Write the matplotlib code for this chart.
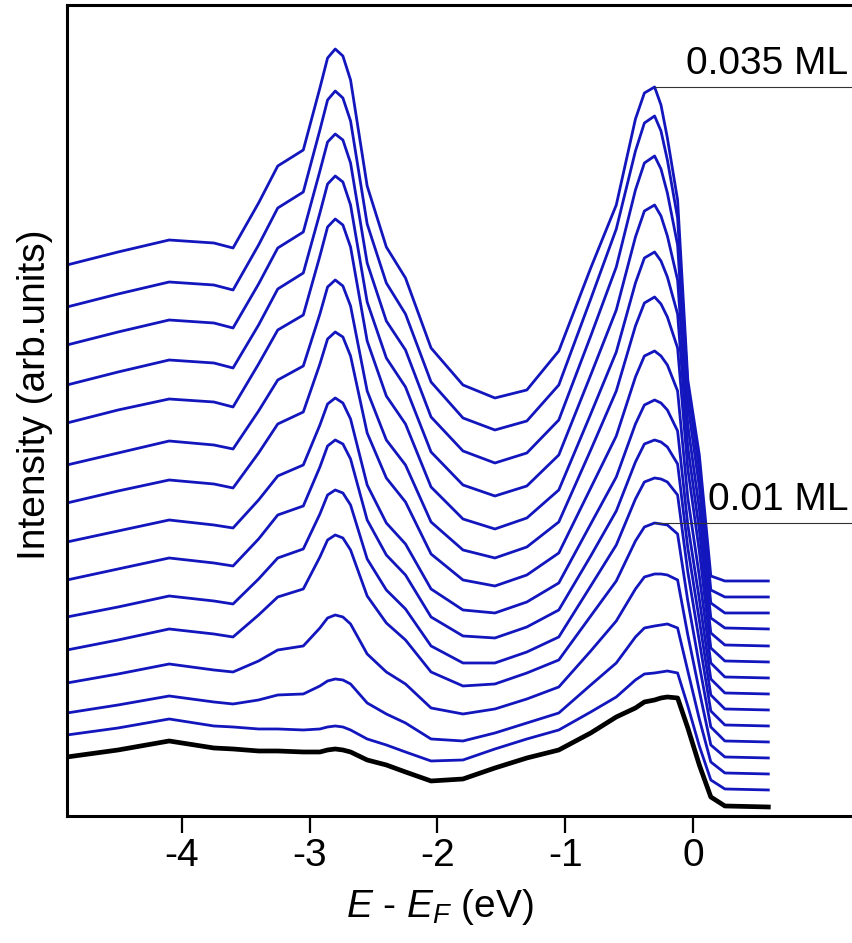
import matplotlib
matplotlib.use("Agg")
import matplotlib.pyplot as plt
import numpy as np

plt.rcParams['font.family'] = ['Liberation Sans', 'DejaVu Sans']
plt.rcParams['mathtext.fontset'] = 'custom'
plt.rcParams['mathtext.rm'] = 'Liberation Sans'
plt.rcParams['mathtext.it'] = 'Liberation Sans:italic'
plt.rcParams['axes.unicode_minus'] = False

## energy grid (eV, relative to E_F)
energy = [-4.9, -4.5, -4.1, -3.75, -3.6, -3.4, -3.25, -3.05, -2.92, -2.86,
          -2.8, -2.74, -2.68, -2.55, -2.4, -2.25, -2.05, -1.8, -1.55, -1.3,
          -1.05, -0.8, -0.6, -0.45, -0.38, -0.3, -0.25, -0.2, -0.12, -0.04,
          0.05, 0.14, 0.25, 0.59]

## spectra, top (0.035 ML) down to the clean surface (black)
spec01 = [316, 329, 341, 338, 333, 378, 415, 431, 493, 523, 532, 525, 501, 395, 334, 303, 233, 196, 183, 191, 230, 313, 376, 462, 488, 494, 476, 443, 381, 201, 126, 5, 0, 0]
spec02 = [290, 303, 315, 312, 307, 352, 389, 405, 467, 497, 506, 499, 476, 373, 314, 283, 215, 179, 167, 176, 212, 298, 368, 446, 474, 481, 466, 437, 379, 209, 127, 7, 0, 0]
spec03 = [268, 281, 293, 290, 285, 329, 365, 381, 442, 471, 479, 473, 450, 350, 292, 263, 196, 162, 150, 160, 193, 277, 346, 423, 450, 457, 444, 420, 368, 209, 126, 10, 0, 0]
spec04 = [244, 257, 269, 266, 261, 304, 340, 356, 416, 445, 453, 447, 424, 327, 271, 242, 177, 144, 133, 143, 174, 254, 319, 392, 418, 424, 413, 393, 349, 204, 120, 11, 1, 0]
spec05 = [223, 236, 247, 244, 239, 282, 316, 331, 390, 419, 427, 421, 399, 305, 250, 222, 159, 127, 117, 128, 156, 232, 294, 363, 388, 394, 385, 369, 332, 199, 116, 13, 1, 0]
spec06 = [197, 209, 221, 217, 213, 251, 282, 296, 348, 375, 382, 376, 356, 271, 222, 197, 140, 112, 104, 115, 140, 212, 271, 336, 359, 365, 358, 345, 314, 193, 111, 14, 1, 0]
spec07 = [175, 187, 198, 194, 190, 225, 254, 266, 314, 339, 346, 341, 322, 245, 200, 176, 124, 98, 92, 103, 125, 190, 242, 301, 322, 327, 322, 313, 287, 180, 102, 15, 1, 0]
spec08 = [152, 163, 174, 169, 166, 194, 218, 229, 269, 290, 296, 291, 275, 209, 171, 150, 105, 84, 81, 92, 111, 170, 217, 270, 289, 294, 291, 284, 263, 169, 95, 15, 1, 0]
spec09 = [130, 141, 152, 147, 144, 171, 195, 204, 243, 264, 270, 266, 251, 190, 155, 135, 93, 74, 72, 83, 100, 154, 199, 248, 266, 270, 268, 263, 246, 162, 90, 15, 1, 0]
spec10 = [109, 119, 130, 125, 122, 147, 168, 177, 212, 231, 236, 233, 221, 167, 136, 117, 80, 63, 63, 74, 89, 140, 181, 227, 244, 248, 247, 244, 231, 154, 85, 15, 1, 0]
spec11 = [92, 102, 113, 108, 105, 127, 145, 153, 185, 202, 207, 204, 192, 146, 119, 102, 70, 56, 58, 69, 82, 126, 161, 201, 215, 219, 218, 217, 208, 141, 77, 15, 1, 0]
spec12 = [75, 84, 94, 88, 86, 97, 108, 112, 130, 140, 143, 141, 134, 104, 86, 74, 50, 44, 49, 59, 71, 107, 137, 169, 181, 184, 184, 183, 178, 123, 67, 13, 1, 0]
spec13 = [61, 69, 78, 72, 70, 74, 79, 80, 88, 93, 95, 94, 90, 71, 60, 51, 35, 33, 41, 51, 61, 89, 111, 137, 146, 148, 149, 150, 146, 103, 55, 12, 1, 0]
spec14 = [55, 62, 71, 64, 63, 61, 61, 60, 61, 63, 64, 63, 60, 51, 45, 38, 29, 30, 41, 51, 60, 78, 93, 110, 116, 117, 118, 119, 117, 84, 44, 10, 1, 0]
clean = [50, 57, 66, 59, 58, 56, 56, 55, 55, 57, 58, 57, 55, 47, 42, 35, 26, 28, 39, 49, 57, 74, 90, 99, 105, 107, 109, 110, 109, 79, 42, 10, 1, 0]

spectra = [spec01, spec02, spec03, spec04, spec05, spec06, spec07, spec08,
           spec09, spec10, spec11, spec12, spec13, spec14]
offsets = [235, 219, 203, 187, 170, 154, 138, 122, 106, 90, 74, 58, 42, 26]
clean_offset = 9

## figure
fig = plt.figure(figsize=(8.53, 9.43), dpi=100)
ax = fig.add_axes([0.0785, 0.1347, 0.9215, 0.860])

e = np.array(energy)
for s, off in zip(spectra, offsets):
    ax.plot(e, np.array(s) + off, color='#1216bc', lw=2.0, solid_joinstyle='round')
ax.plot(e, np.array(clean) + clean_offset, color='black', lw=3.4, solid_joinstyle='round')

## coverage markers at the peak near E_F
near_ef = e > -1
top_peak = np.max(np.array(spec01)[near_ef]) + offsets[0]
low_peak = np.max(np.array(spec11)[near_ef]) + offsets[10]
ax.plot([-0.3, 1.3], [top_peak, top_peak], color='#333333', lw=0.8)
ax.plot([-0.3, 1.3], [low_peak, low_peak], color='#333333', lw=0.8)
ax.text(1.215, top_peak + 5, '0.035 ML', fontsize=28, ha='right', va='bottom')
ax.text(1.215, low_peak + 5, '0.01 ML', fontsize=28, ha='right', va='bottom')

ax.set_xlim(-4.9, 1.253)
ax.set_ylim(0, 811)
ax.set_xticks([-4, -3, -2, -1, 0])
ax.set_yticks([])
ax.tick_params(axis='x', direction='out', length=12, width=1.6, labelsize=28, pad=4)

for side in ['left', 'bottom', 'top']:
    ax.spines[side].set_linewidth(2.2)
ax.spines['right'].set_visible(False)

ax.set_xlabel('$E$ - $E_F$ (eV)', fontsize=28)
ax.xaxis.set_label_coords(0.4746, -0.088)
ax.set_ylabel('Intensity (arb.units)', fontsize=28)
ax.yaxis.set_label_coords(-0.018, 0.519)

plt.savefig('out.png', dpi=100)
